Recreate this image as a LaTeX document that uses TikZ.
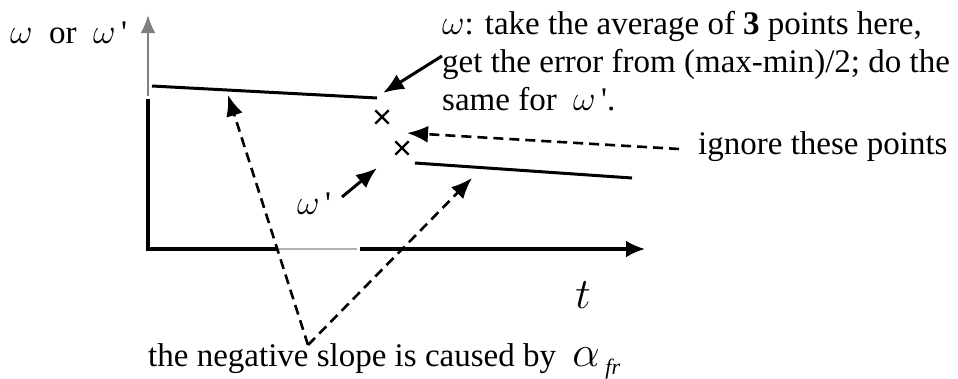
\documentclass[tikz,border=0pt]{standalone}
\usepackage{fontspec}
\setmainfont{Liberation Serif}
\usetikzlibrary{arrows.meta,shapes.misc}
\newcommand{\om}{\scalebox{1.4}{$\omega$}}
\newcommand{\prm}{\,\textquotesingle}
\begin{document}
\begin{tikzpicture}[x=1pt,y=-1pt,
  solidarrow/.style={line width=3pt,-{Latex[length=21pt,width=17pt]}},
  dasharrow/.style={line width=2.6pt,dash pattern=on 10pt off 6pt,-{Latex[length=21pt,width=17pt]}},
  axis/.style={line width=3.2pt},
  curve/.style={line width=3pt},
  pt/.style={cross out,draw,line width=2.4pt,minimum size=11pt,inner sep=0pt},
  lbl/.style={inner sep=0pt,font=\fontsize{33}{38}\selectfont}]
\useasboundingbox (0,0) rectangle (958,378);
% axes
\coordinate (ytop) at (148,15);
\coordinate (ygap) at (148,96);
\coordinate (yb) at (148,99);
\coordinate (o) at (148,249);
\coordinate (xg1) at (277,249);
\coordinate (xg2) at (357,249);
\coordinate (xg3) at (360,249);
\coordinate (xend) at (645,249);
\draw[line width=2.4pt,gray,-{Latex[length=18pt,width=15pt]}] (ygap) -- (ytop);
\draw[axis] (yb) -- (o) -- (xg1);
\draw[line width=2.6pt,gray!60] (xg1) -- (xg2);
\draw[axis,-{Latex[length=19pt,width=17pt]}] (xg3) -- (xend);
% data lines
\coordinate (u1) at (152,86);
\coordinate (u2) at (377,98);
\coordinate (l1) at (415,163);
\coordinate (l2) at (632,178);
\draw[curve] (u1) -- (u2);
\draw[curve] (l1) -- (l2);
\node[pt] (p1) at (382,117) {};
\node[pt] (p2) at (402,148) {};
% labels
\node[lbl,anchor=base west] (ylab) at (10,43) {\om\ \ or\ \ \om\prm};
\node[lbl,anchor=base west] (txtA) at (442,34) {\om: take the average of \textbf{3} points here,};
\node[lbl,anchor=base west] (txtB) at (442,72) {get the error from (max-min)/2; do the};
\node[lbl,anchor=base west] (txtC) at (442,110) {same for \ \om\prm.};
\node[lbl,anchor=base west] (ign) at (698,154) {ignore these points};
\node[lbl,anchor=center] (wp) at (314,204) {\om\prm};
\node[inner sep=0pt,font=\fontsize{24.88}{26}\selectfont] (tl) at (583,295) {\scalebox{1.75}{$t$}};
\node[lbl,anchor=base west,font=\fontsize{33}{36}\selectfont] (bot) at (148,366) {the negative slope is caused by \ \scalebox{1.75}{$\alpha$}\,{\fontsize{22}{22}\selectfont\raisebox{-8pt}{\textit{fr}}}};
% arrows
\coordinate (wtail) at (442,56);
\coordinate (wtip) at (383,93);
\coordinate (ignt) at (679,149);
\coordinate (ignh) at (407,133);
\coordinate (wptail) at (342,197);
\coordinate (wptip) at (377,168);
\coordinate (v) at (308,345);
\coordinate (d1) at (228,95);
\coordinate (d2) at (472,178);
\draw[solidarrow] (wtail) -- (wtip);
\draw[solidarrow] (wptail) -- (wptip);
\draw[dasharrow] (ignt) -- (ignh);
\draw[dasharrow] (v) -- (d1);
\draw[dasharrow] (v) -- (d2);
\end{tikzpicture}
\end{document}
